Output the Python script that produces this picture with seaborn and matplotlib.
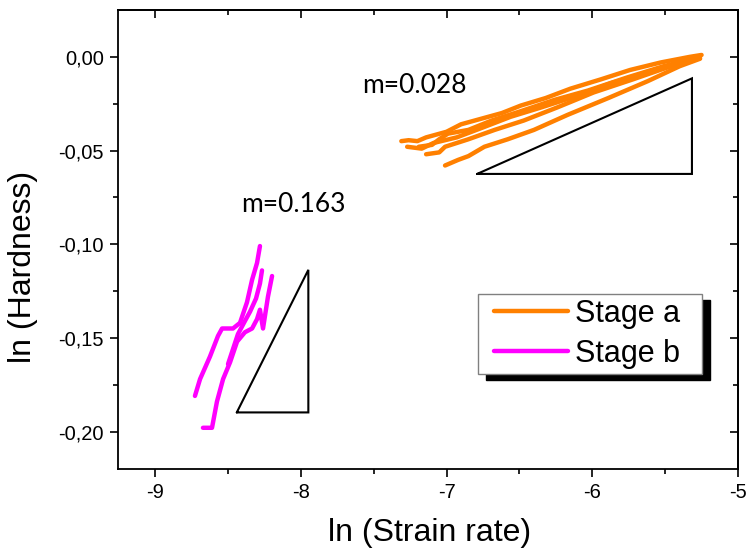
import matplotlib
matplotlib.use("Agg")
import matplotlib.pyplot as plt
import numpy as np
import pandas as pd
import seaborn as sns
from matplotlib.lines import Line2D
from matplotlib.legend_handler import HandlerLine2D
from matplotlib.ticker import FixedLocator, FuncFormatter

# ---- data: ln(hardness) vs ln(strain rate) for each indentation run ----
stage_a_runs_x = [
    [-7.31, -7.26, -7.20, -7.14, -7.00, -6.90, -6.76, -6.62, -6.49, -6.32, -6.15, -5.94, -5.74, -5.53, -5.33, -5.25],
    [-7.19, -7.10, -7.05, -6.99, -6.85, -6.69, -6.49, -6.26, -6.03, -5.76, -5.51, -5.31],
    [-7.14, -7.05, -7.01, -6.85, -6.67, -6.47, -6.24, -5.99, -5.72, -5.46, -5.28],
    [-7.01, -6.92, -6.85, -6.74, -6.58, -6.40, -6.17, -5.89, -5.62, -5.40, -5.26],
    [-7.27, -7.17, -7.09, -6.93, -6.76, -6.56, -6.35, -6.11, -5.87, -5.60, -5.33, -5.26],
]
stage_a_runs_y = [
    [-0.045, -0.0445, -0.045, -0.043, -0.040, -0.036, -0.033, -0.030, -0.026, -0.022, -0.017, -0.012, -0.007, -0.003, 0.000, 0.001],
    [-0.048, -0.047, -0.044, -0.041, -0.039, -0.034, -0.029, -0.023, -0.018, -0.011, -0.005, -0.001],
    [-0.052, -0.051, -0.048, -0.044, -0.039, -0.034, -0.027, -0.019, -0.012, -0.005, -0.001],
    [-0.058, -0.055, -0.053, -0.048, -0.044, -0.039, -0.031, -0.022, -0.013, -0.005, -0.001],
    [-0.048, -0.049, -0.046, -0.043, -0.038, -0.032, -0.027, -0.021, -0.014, -0.008, -0.002, 0.000],
]
stage_b_runs_x = [
    [-8.726, -8.691, -8.623, -8.568, -8.540, -8.465, -8.417, -8.369, -8.334, -8.300, -8.280],
    [-8.671, -8.609, -8.575, -8.533, -8.485, -8.437, -8.383, -8.334, -8.300, -8.280, -8.259, -8.225, -8.197],
    [-8.499, -8.465, -8.431, -8.383, -8.348, -8.307, -8.280, -8.266],
]
stage_b_runs_y = [
    [-0.181, -0.172, -0.160, -0.149, -0.145, -0.145, -0.142, -0.131, -0.119, -0.110, -0.101],
    [-0.198, -0.198, -0.184, -0.172, -0.163, -0.152, -0.147, -0.145, -0.140, -0.135, -0.145, -0.128, -0.117],
    [-0.164, -0.156, -0.148, -0.141, -0.136, -0.129, -0.121, -0.114],
]

stage_labels = ["Stage a", "Stage b"]
stage_colors = ["#FF8000", "#FF00FF"]

# slope triangles (corner points) and strain-rate sensitivity labels
tri_a_x = [-6.79, -5.316, -5.316, -6.79]
tri_a_y = [-0.0625, -0.0625, -0.0115, -0.0625]
tri_b_x = [-8.439, -7.948, -7.948, -8.439]
tri_b_y = [-0.1898, -0.1898, -0.1137, -0.1898]
m_labels = ["m=0.028", "m=0.163"]
m_label_x = [-7.220, -8.048]
m_label_y = [-0.0192, -0.0830]

x_major = [-9, -8, -7, -6, -5]
x_minor = [-8.5, -7.5, -6.5, -5.5]
y_major = [-0.20, -0.15, -0.10, -0.05, 0.00]
y_minor = [-0.175, -0.125, -0.075, -0.025]

# ---- long-form table ----
rows = []
for stage, xs_all, ys_all in [("Stage a", stage_a_runs_x, stage_a_runs_y),
                              ("Stage b", stage_b_runs_x, stage_b_runs_y)]:
    for run, (xs, ys) in enumerate(zip(xs_all, ys_all)):
        for i, (xv, yv) in enumerate(zip(xs, ys)):
            rows.append({"stage": stage, "run": f"{stage}-{run}", "order": i,
                         "ln_rate": xv, "ln_H": yv})
df = pd.DataFrame(rows)

sns.set_theme(style="white")
plt.rcParams["font.family"] = ["Liberation Sans", "DejaVu Sans"]
plt.rcParams["text.color"] = "black"

fig = plt.figure(figsize=(7.47, 5.56), dpi=100)
ax = fig.add_axes([118 / 747, 1 - 469 / 556, 620 / 747, 459 / 556])

sns.lineplot(data=df, x="ln_rate", y="ln_H", hue="stage", units="run",
             estimator=None, sort=False, palette=dict(zip(stage_labels, stage_colors)),
             lw=3.2, legend=False, ax=ax,
             solid_capstyle="round", solid_joinstyle="round")

ax.plot(tri_a_x, tri_a_y, color="black", lw=1.5, solid_joinstyle="miter")
ax.plot(tri_b_x, tri_b_y, color="black", lw=1.5, solid_joinstyle="miter")
for s, tx, ty in zip(m_labels, m_label_x, m_label_y):
    ax.text(tx, ty, s, ha="center", va="baseline", fontsize=19,
            family=["Lato", "DejaVu Sans"], color="black")

ax.set_xlim(-9.254, -5.0)
ax.set_ylim(-0.22, 0.025)

# axes frame
for sp in ax.spines.values():
    sp.set_visible(True)
    sp.set_color("black")
    sp.set_linewidth(1.3)

ax.xaxis.set_major_locator(FixedLocator(x_major))
ax.xaxis.set_minor_locator(FixedLocator(x_minor))
ax.yaxis.set_major_locator(FixedLocator(y_major))
ax.yaxis.set_minor_locator(FixedLocator(y_minor))
ax.xaxis.set_major_formatter(FuncFormatter(lambda v, p: f"{v:.0f}"))
ax.yaxis.set_major_formatter(FuncFormatter(
    lambda v, p: "0,00" if abs(v) < 1e-9 else f"{v:.2f}".replace(".", ",")))
ax.tick_params(axis="both", which="major", direction="out", length=6,
               width=1.2, color="black", labelsize=14.5, labelcolor="black",
               bottom=True, left=True, top=False, right=False, pad=4)
ax.tick_params(axis="both", which="minor", direction="out", length=3.5,
               width=1.2, color="black", bottom=True, left=True,
               top=False, right=False)

# mirrored inward ticks on top and right
top = ax.secondary_xaxis("top")
top.xaxis.set_major_locator(FixedLocator(x_major))
top.xaxis.set_minor_locator(FixedLocator(x_minor))
top.tick_params(which="major", direction="in", length=6, width=1.2,
                color="black", labeltop=False)
top.tick_params(which="minor", direction="in", length=3.5, width=1.2, color="black")
right = ax.secondary_yaxis("right")
right.yaxis.set_major_locator(FixedLocator(y_major))
right.yaxis.set_minor_locator(FixedLocator(y_minor))
right.tick_params(which="major", direction="in", length=6, width=1.2,
                  color="black", labelright=False)
right.tick_params(which="minor", direction="in", length=3.5, width=1.2, color="black")
for sec in (top, right):
    for sp in sec.spines.values():
        sp.set_linewidth(1.3)
        sp.set_color("black")

ax.set_xlabel("ln (Strain rate)", fontsize=23, color="black", va="center")
ax.xaxis.set_label_coords(0.503, -0.139)
ax.set_ylabel("ln (Hardness)", fontsize=23, color="black", va="center")
ax.yaxis.set_label_coords(-0.153, 0.44)

handles = [Line2D([], [], color=c, lw=3.2) for c in stage_colors]
leg = ax.legend(handles, stage_labels, loc="upper left",
                bbox_to_anchor=(0.5806, 0.2, 0.3613, 0.1813), mode="expand",
                borderaxespad=0, fontsize=22, frameon=True, fancybox=False,
                borderpad=0.16, labelspacing=0.33, handlelength=2.78,
                handletextpad=0.25, labelcolor="black",
                handler_map={Line2D: HandlerLine2D(xpad=0.36)},
                shadow={"ox": 5.8, "oy": -4.3, "color": "black", "alpha": 1.0})
leg.get_frame().set_edgecolor("#808080")
leg.get_frame().set_linewidth(1.0)
leg.get_frame().set_facecolor("white")
leg.get_frame().set_alpha(1.0)

fig.savefig("out.png", dpi=100, facecolor="white")
